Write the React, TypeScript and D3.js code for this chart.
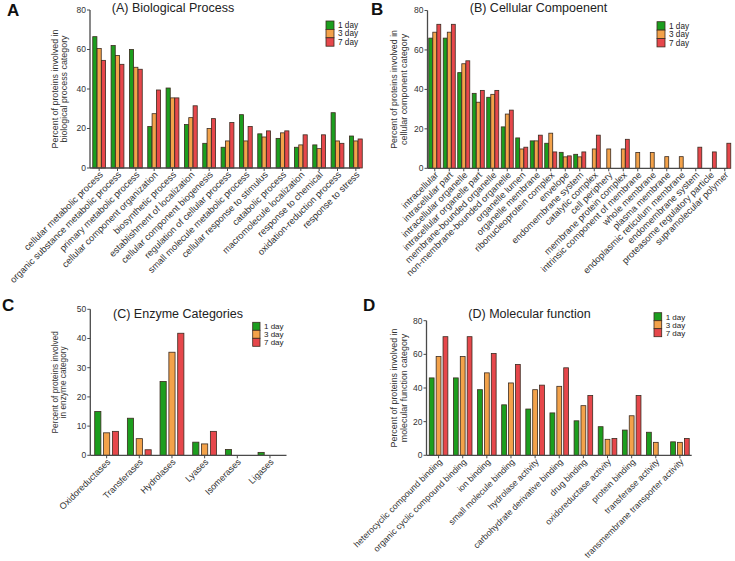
import React from "react";
import * as d3 from "d3";

// ---- data ----
const timeLabels = ["1 day", "3 day", "7 day"];

const bpCategories = [
  "cellular metabolic process", "organic substance metabolic process", "primary metabolic process",
  "cellular component organization", "biosynthetic process", "establishment of localization",
  "cellular component biogenesis", "regulation of cellular process", "small molecule metabolic process",
  "cellular response to stimulus", "catabolic process", "macromolecule localization",
  "response to chemical", "oxidation-reduction process", "response to stress",
];
const bpDay1 = [66.5, 62, 60, 21, 40.5, 22, 12.5, 10.5, 27, 17.3, 15, 10.5, 11.7, 28, 16.2];
const bpDay3 = [60.5, 57, 51, 27.5, 35.5, 25.5, 20, 13.7, 13.7, 15.7, 17.8, 11.7, 9.8, 13.7, 13.7];
const bpDay7 = [54.5, 52.5, 50, 39.5, 35.5, 31.5, 25, 23, 21, 18.8, 18.8, 16.8, 16.8, 12.5, 14.7];

const ccCategories = [
  "intracellular", "intracellular part", "intracellular organelle", "intracellular organelle part",
  "membrane-bounded organelle", "non-membrane-bounded organelle", "organelle lumen",
  "organelle membrane", "ribonucleoprotein complex", "envelope", "endomembrane system",
  "catalytic complex", "cell periphery", "membrane protein complex", "intrinsic component of membrane",
  "whole membrane", "plasma membrane", "endoplasmic reticulum membrane", "endomembrane system",
  "proteasome regulatory particle", "supramolecular polymer",
];
const ccDay1 = [66, 66, 48.5, 38, 36, 21, 15.4, 13.9, 12.7, 8.1, 7.1, 0, 0, 0, 0, 0, 0, 0, 0, 0, 0];
const ccDay3 = [69, 69, 53, 33.5, 37.5, 27.5, 9.8, 13.9, 17.8, 5.8, 5.8, 9.8, 9.8, 9.8, 8, 8, 5.9, 5.9, 0, 0, 0];
const ccDay7 = [73, 73, 54.5, 39.5, 39.5, 29.5, 10.7, 16.8, 8.3, 6.3, 8.3, 16.8, 0, 14.7, 0, 0, 0, 0, 10.7, 8.3, 12.7];

const ecCategories = ["Oxidoreductases", "Transferases", "Hydrolases", "Lyases", "Isomerases", "Ligases"];
const ecDay1 = [15, 12.7, 25.3, 4.5, 2, 1];
const ecDay3 = [7.7, 5.7, 35.3, 3.9, 0, 0];
const ecDay7 = [8.2, 1.9, 41.8, 8.2, 0, 0];

const mfCategories = [
  "heterocyclic compound binding", "organic cyclic compound binding", "ion binding",
  "small molecule binding", "hydrolase activity", "carbohydrate derivative binding",
  "drug binding", "oxidoreductase activity", "protein binding", "transferase activity",
  "transmembrane transporter activity",
];
const mfDay1 = [46, 46, 39, 30, 27.5, 25.2, 20.5, 17, 15, 13.7, 8];
const mfDay3 = [58.7, 58.7, 49, 43, 39, 41, 29.5, 9.5, 23.5, 7.7, 7.7];
const mfDay7 = [70.5, 70.5, 60.5, 54, 41.7, 52, 35.5, 10, 35.5, 0, 10];

// ---- styles ----
const barColors = ["#1c9e1e", "#f3a24a", "#e6474b"];
const barStroke = "#3b2b20";
const axisColor = "#4a4a4a";
const font = "'Liberation Sans', Arial, sans-serif";

const panels = [
  {
    letter: "A", letterX: 7, letterY: 16, title: "(A) Biological Process", titleX: 173, titleY: 12,
    cats: bpCategories, series: [bpDay1, bpDay3, bpDay7], yMax: 80, tickCount: 4,
    left: 90, right: 365, axisEnd: 360, top: 10, bottom: 168,
    xLabelSize: 9.3,
    yLabel: ["Percent of proteins involved in", "biological process category"], yLabelX: 58, yLabelGap: 9,
    yLabelSize: 8.9, legendX: 326, legendY: 21, legendStep: 8.4, legendSize: 8, legendFont: 8.2,
    groupPad: 0.3, barPad: 0.04,
  },
  {
    letter: "B", letterX: 371, letterY: 15, title: "(B) Cellular Compoenent", titleX: 538.5, titleY: 12,
    cats: ccCategories, series: [ccDay1, ccDay3, ccDay7], yMax: 80, tickCount: 4,
    left: 427.5, right: 732, axisEnd: 728, top: 10.5, bottom: 168.3,
    xLabelSize: 9.3,
    yLabel: ["Percent of proteins involved in", "cellular component category"], yLabelX: 396.5, yLabelGap: 10,
    yLabelSize: 8.9, legendX: 657, legendY: 21.7, legendStep: 8.4, legendSize: 8, legendFont: 8.2,
    groupPad: 0.17, barPad: 0.04,
  },
  {
    letter: "C", letterX: 2, letterY: 311, title: "(C) Enzyme Categories", titleX: 178, titleY: 318,
    cats: ecCategories, series: [ecDay1, ecDay3, ecDay7], yMax: 50, tickCount: 5,
    left: 90.3, right: 286.3, axisEnd: 286.5, top: 309.3, bottom: 455.3,
    xLabelSize: 9,
    yLabel: ["Percent of proteins involved", "in enzyme category"], yLabelX: 58, yLabelGap: 7.6,
    yLabelSize: 8.3, legendX: 252.7, legendY: 322.3, legendStep: 8, legendSize: 7.3, legendFont: 8,
    groupPad: 0.27, barPad: 0.3,
  },
  {
    letter: "D", letterX: 363, letterY: 311, title: "(D) Molecular function", titleX: 529.5, titleY: 318,
    cats: mfCategories, series: [mfDay1, mfDay3, mfDay7], yMax: 80, tickCount: 4,
    left: 426.5, right: 692, axisEnd: 691.7, top: 320.7, bottom: 455.3,
    xLabelSize: 8.8,
    yLabel: ["Percent of proteins involved in", "molecular function category"], yLabelX: 397, yLabelGap: 10,
    yLabelSize: 8.9, legendX: 654, legendY: 312.7, legendStep: 8, legendSize: 7.7, legendFont: 8,
    groupPad: 0.23, barPad: 0.3,
  },
];

type PanelProps = (typeof panels)[number];

const BarPanel = (p: PanelProps) => {
  const idx = p.cats.map((_, i) => i);
  const x = d3.scaleBand<number>().domain(idx).range([p.left, p.right]).paddingInner(p.groupPad).paddingOuter(p.groupPad / 2);
  const inner = d3.scaleBand<number>().domain([0, 1, 2]).range([0, x.bandwidth()]).padding(p.barPad).paddingOuter(0);
  const y = d3.scaleLinear().domain([0, p.yMax]).range([p.bottom, p.top]);
  const midY = (p.top + p.bottom) / 2;

  return (
    <g>
      <text x={p.letterX} y={p.letterY} fontSize={17} fontWeight="bold" fill="#111">{p.letter}</text>
      <text x={p.titleX} y={p.titleY} fontSize={12.5} textAnchor="middle" fill="#222">{p.title}</text>

      {p.series.map((vals, s) => (
        <g key={s} fill={barColors[s]} stroke={barStroke} strokeWidth={0.8}>
          {vals.map((v, i) =>
            v > 0 ? (
              <rect key={i} x={(x(i) ?? 0) + (inner(s) ?? 0)} y={y(v)} width={inner.bandwidth()} height={y(0) - y(v)} />
            ) : null
          )}
        </g>
      ))}

      {/* y axis */}
      <line x1={p.left} x2={p.left} y1={y(p.yMax)} y2={p.bottom} stroke={axisColor} strokeWidth={1.3} />
      {y.ticks(p.tickCount).map((t) => (
        <g key={t}>
          <line x1={p.left - 3} x2={p.left} y1={y(t)} y2={y(t)} stroke={axisColor} strokeWidth={1} />
          <text x={p.left - 4} y={y(t)} dy="0.35em" fontSize={8.5} textAnchor="end" fill="#333">{t}</text>
        </g>
      ))}

      {/* x axis */}
      <line x1={p.left} x2={p.axisEnd} y1={p.bottom} y2={p.bottom} stroke={axisColor} strokeWidth={1.3} />
      {idx.map((i) => {
        const cx = (x(i) ?? 0) + x.bandwidth() / 2;
        return (
          <g key={i}>
            <line x1={cx} x2={cx} y1={p.bottom} y2={p.bottom + 3} stroke={axisColor} strokeWidth={1} />
            <text
              transform={`translate(${cx + 2},${p.bottom + 5}) rotate(-45)`}
              dy="0.35em" fontSize={p.xLabelSize} textAnchor="end" fill="#333"
            >
              {p.cats[i]}
            </text>
          </g>
        );
      })}

      {/* y label */}
      <text transform={`translate(${p.yLabelX},${midY}) rotate(-90)`} fontSize={p.yLabelSize} textAnchor="middle" fill="#333">
        <tspan x={0} dy={0}>{p.yLabel[0]}</tspan>
        <tspan x={0} dy={p.yLabelGap}>{p.yLabel[1]}</tspan>
      </text>

      {/* legend */}
      {timeLabels.map((lab, s) => (
        <g key={lab}>
          <rect x={p.legendX} y={p.legendY + s * p.legendStep} width={p.legendSize} height={p.legendStep}
            fill={barColors[s]} stroke={barStroke} strokeWidth={0.8} />
          <text x={p.legendX + p.legendSize + 4} y={p.legendY + s * p.legendStep + p.legendStep / 2}
            dy="0.35em" fontSize={p.legendFont} fill="#222">{lab}</text>
        </g>
      ))}
    </g>
  );
};

export default function App() {
  return (
    <svg width={735} height={561} style={{ position: "absolute", left: 0, top: 0, background: "#fff" }} fontFamily={font}>
      {panels.map((p) => (
        <BarPanel key={p.letter} {...p} />
      ))}
    </svg>
  );
}
